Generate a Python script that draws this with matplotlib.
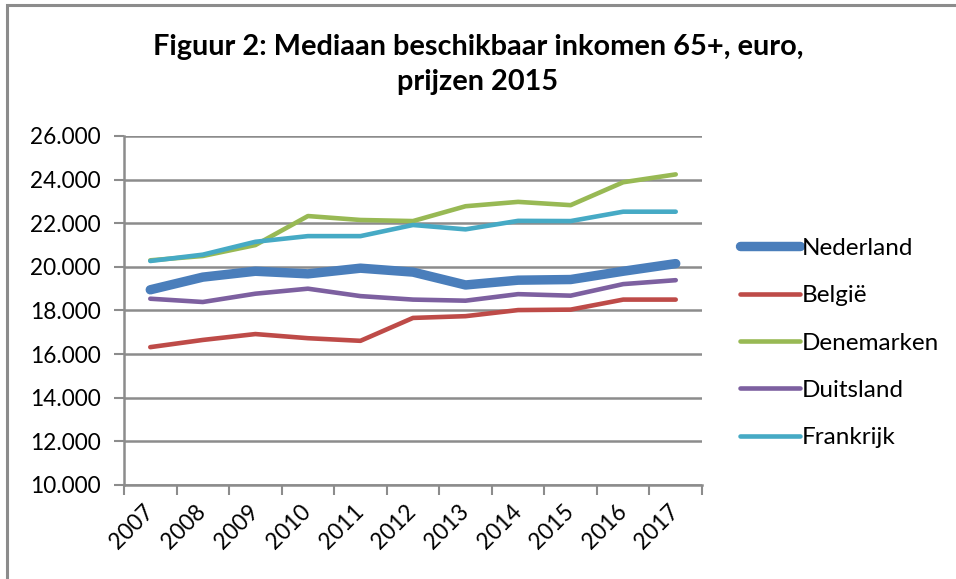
import numpy as np
import matplotlib
matplotlib.use("Agg")
import matplotlib.pyplot as plt
from matplotlib.patches import Rectangle

plt.rcParams['font.family'] = ['Lato', 'DejaVu Sans']

years = ["2007", "2008", "2009", "2010", "2011", "2012", "2013", "2014", "2015", "2016", "2017"]

nederland = [18950, 19530, 19800, 19680, 19940, 19760, 19170, 19390, 19420, 19800, 20150]
belgie = [16320, 16650, 16920, 16730, 16610, 17660, 17740, 18020, 18040, 18500, 18500]
denemarken = [20300, 20500, 21000, 22330, 22150, 22100, 22780, 22980, 22830, 23880, 24240]
duitsland = [18540, 18390, 18770, 19000, 18660, 18500, 18450, 18750, 18680, 19210, 19390]
frankrijk = [20270, 20560, 21150, 21410, 21410, 21920, 21720, 22110, 22100, 22530, 22530]

series = [
    ("Nederland", nederland, "#4A7EBB", 6.8),
    ("België", belgie, "#BE4B48", 3.3),
    ("Denemarken", denemarken, "#98B954", 3.3),
    ("Duitsland", duitsland, "#7D60A0", 3.3),
    ("Frankrijk", frankrijk, "#46AAC5", 3.3),
]

fig = plt.figure(figsize=(9.56, 5.79), dpi=100)
ax = fig.add_axes([124 / 956, 94 / 579, 578 / 956, 349 / 579])

# chart border like the excel frame
fig.patches.append(Rectangle((7 / 956, -0.1), 1.2, (579 - 5) / 579 + 0.1,
                             transform=fig.transFigure, fill=False,
                             edgecolor="#8c8c8c", linewidth=2.2))

x = np.arange(len(years))
for name, vals, col, lw in series:
    ax.plot(x, vals, color=col, linewidth=lw, solid_capstyle="round",
            solid_joinstyle="round", label=name, zorder=3)

ax.set_xlim(-0.5, len(years) - 0.5)
ax.set_ylim(10000, 26000)
ax.set_yticks(np.arange(10000, 26001, 2000))
ax.set_yticklabels([f"{v // 1000}.000" for v in range(10000, 26001, 2000)], fontsize=16.3)
ax.yaxis.grid(True, color="#8c8c8c", linewidth=1.8, zorder=1)

ax.set_xticks(x)
ax.set_xticklabels(years, fontsize=16.3, rotation=45, ha="right", va="center",
                   rotation_mode="anchor")
ax.set_xticks(np.arange(-0.5, len(years)), minor=True)
ax.tick_params(axis="x", which="major", length=0, pad=17)
ax.tick_params(axis="x", which="minor", length=7, width=1.5, color="#8c8c8c")
ax.tick_params(axis="y", length=7, width=1.5, color="#8c8c8c", pad=10)

for s in ["top", "right"]:
    ax.spines[s].set_visible(False)
for s in ["left", "bottom"]:
    ax.spines[s].set_color("#8c8c8c")
    ax.spines[s].set_linewidth(1.8)

fig.text(478 / 956, 1 - 47 / 579, "Figuur 2: Mediaan beschikbaar inkomen 65+, euro,",
         ha="center", va="center", fontsize=20.8, fontweight="bold")
fig.text(478 / 956, 1 - 82 / 579, "prijzen 2015",
         ha="center", va="center", fontsize=20.8, fontweight="bold")

leg = ax.legend(loc="center left", bbox_to_anchor=(1.0 + 38 / 578, (485 - 343) / 349),
                frameon=False, fontsize=17.5, handlelength=2.45, handletextpad=0.1,
                labelspacing=1.08, borderpad=0, borderaxespad=0)

fig.savefig("out.png", dpi=100)
